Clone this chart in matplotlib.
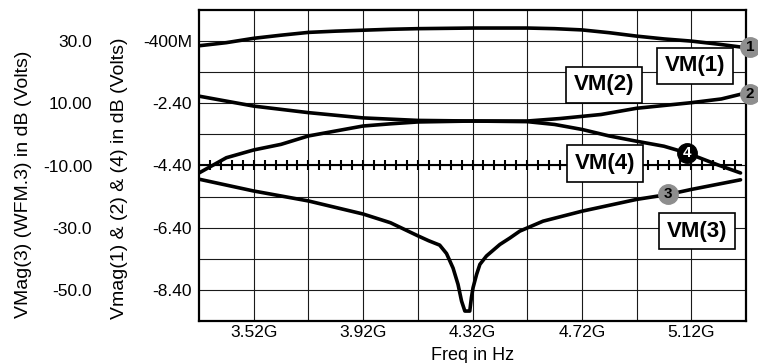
import numpy as np
import matplotlib
matplotlib.use("Agg")
import matplotlib.pyplot as plt

plt.rcParams['font.family'] = ['Liberation Sans', 'DejaVu Sans']

# frequencies in GHz, magnitudes in dB
vm1_f = [3.32, 3.42, 3.52, 3.62, 3.72, 3.82, 3.92, 4.02, 4.12, 4.32, 4.52, 4.62, 4.72, 4.82, 4.92, 5.02, 5.12, 5.22, 5.30]
vm1 = [-0.55, -0.45, -0.31, -0.21, -0.12, -0.08, -0.05, -0.02, 0.0, 0.02, 0.02, 0.0, -0.04, -0.13, -0.24, -0.33, -0.40, -0.50, -0.59]

vm2_f = [3.32, 3.52, 3.72, 3.92, 4.12, 4.32, 4.52, 4.64, 4.79, 4.92, 5.12, 5.23, 5.30]
vm2 = [-2.17, -2.49, -2.70, -2.87, -2.95, -2.97, -2.97, -2.89, -2.76, -2.56, -2.38, -2.26, -2.11]

vm4_f = [3.32, 3.42, 3.52, 3.62, 3.72, 3.82, 3.92, 4.02, 4.12, 4.32, 4.52, 4.62, 4.72, 4.82, 4.92, 5.02, 5.105, 5.22, 5.30]
vm4 = [-4.64, -4.15, -3.90, -3.72, -3.45, -3.29, -3.13, -3.06, -3.00, -2.97, -2.99, -3.08, -3.24, -3.45, -3.62, -3.78, -4.00, -4.39, -4.64]

vm3_f = [3.32, 3.52, 3.72, 3.92, 4.02, 4.12, 4.16, 4.20, 4.225, 4.249, 4.267, 4.28, 4.292, 4.31,
         4.316, 4.322, 4.335, 4.347, 4.371, 4.42, 4.457, 4.493, 4.578, 4.72, 4.92, 5.036, 5.12, 5.30]
vm3 = [-14.4, -18.2, -21.4, -25.6, -28.4, -32.6, -34.2, -35.6, -38.3, -43.0, -48.2, -53.6, -56.8, -56.8,
       -52.5, -49.3, -45.0, -41.8, -39.1, -35.4, -33.3, -31.1, -27.9, -24.7, -20.9, -19.3, -17.7, -14.6]

xticks = [3.52, 3.92, 4.32, 4.72, 5.12]
xtick_labels = ['3.52G', '3.92G', '4.32G', '4.72G', '5.12G']
yticks = [-0.4, -2.4, -4.4, -6.4, -8.4]
ytick_labels = ['-400M', '-2.40', '-4.40', '-6.40', '-8.40']
y3ticks = [30, 10, -10, -30, -50]
y3tick_labels = ['30.0', '10.00', '-10.00', '-30.0', '-50.0']

fig = plt.figure(figsize=(7.58, 3.63), dpi=100)
ax = fig.add_axes([199/758, 1 - 321/363, 547/758, 311/363])
ax.set_xlim(3.32, 5.32)
ax.set_ylim(-9.4, 0.6)

ax.set_xticks(xticks, xtick_labels)
ax.set_xticks([3.72, 4.12, 4.52, 4.92], minor=True)
ax.set_yticks(yticks, ytick_labels)
ax.set_yticks([-1.4, -3.4, -5.4, -7.4], minor=True)
ax.tick_params(which='both', length=0, labelsize=12.5)
ax.tick_params(axis='x', pad=3)
ax.tick_params(axis='y', pad=5)
ax.grid(which='both', color='#1a1a1a', lw=0.8)
ax.set_axisbelow(True)
for s in ax.spines.values():
    s.set_linewidth(1.6)

# ticked reference line
ax.plot([3.32, 5.30], [-4.4, -4.4], color='black', lw=1.5, zorder=3)
ref_ticks = np.arange(3.36, 5.29, 0.04)
ax.plot(ref_ticks, np.full(len(ref_ticks), -4.4), ls='none', marker='|', ms=7, mew=1.5, color='black', zorder=3)

for f, v in [(vm1_f, vm1), (vm2_f, vm2), (vm4_f, vm4)]:
    ax.plot(f, v, color='black', lw=2.6, solid_joinstyle='round', solid_capstyle='round', zorder=4)

ax.set_xlabel('Freq in Hz', fontsize=13, labelpad=5)
ax.set_ylabel('Vmag(1) & (2) & (4) in dB (Volts)', fontsize=14)
ax.yaxis.set_label_coords(-0.13, 0.46)

# second scale for VM(3)
ax3 = ax.twinx()
ax3.set_ylim(-60, 40)
ax3.yaxis.tick_left()
ax3.yaxis.set_label_position('left')
ax3.spines['left'].set_position(('outward', 72))
for s in ax3.spines.values():
    s.set_visible(False)
ax3.set_yticks(y3ticks, y3tick_labels)
ax3.tick_params(length=0, labelsize=12.5, pad=5)
ax3.set_ylabel('VMag(3) (WFM.3) in dB (Volts)', fontsize=14)
ax3.yaxis.set_label_coords(-0.305, 0.44)
ax3.plot(vm3_f, vm3, color='black', lw=2.6, solid_joinstyle='round', solid_capstyle='round', zorder=4)

# numbered trace markers
gray = '#8e8e8e'
mk = [(ax, 5.335, vm1[-1], '1', gray, 'black'),
      (ax, 5.335, vm2[-1], '2', gray, 'black'),
      (ax3, 5.036, np.interp(5.036, vm3_f, vm3), '3', gray, 'black'),
      (ax, 5.105, np.interp(5.105, vm4_f, vm4), '4', 'black', 'white')]
for a, f, v, t, fc, tc in mk:
    a.plot(f, v, 'o', ms=14, mfc=fc, mec=fc, clip_on=False, zorder=7)
    a.text(f, v, t, ha='center', va='center', fontsize=11, fontweight='bold', color=tc, zorder=8, clip_on=False)

# trace labels
labels = [('VM(1)', 0.907, 0.820), ('VM(2)', 0.741, 0.759), ('VM(4)', 0.743, 0.506), ('VM(3)', 0.910, 0.289)]
for t, x, y in labels:
    ax3.text(x, y, t, transform=ax3.transAxes, ha='center', va='center', fontsize=16, fontweight='bold',
             bbox=dict(boxstyle='square,pad=0.35', fc='white', ec='black', lw=1.2), zorder=10)

fig.savefig('out.png', dpi=100)
